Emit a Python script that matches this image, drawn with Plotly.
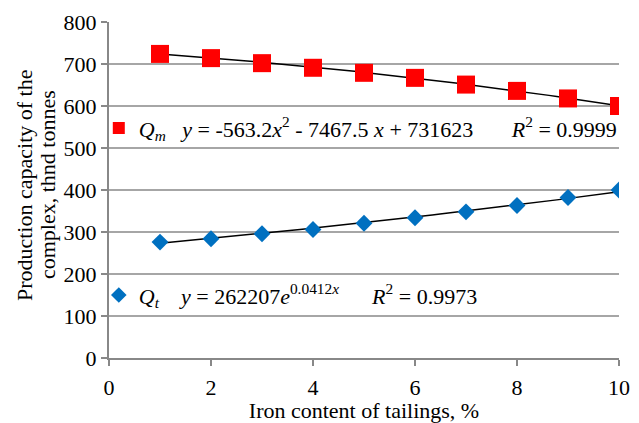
import numpy as np
import plotly.graph_objects as go

# Data (thousand tonnes) vs iron content of tailings (%)
iron = [1, 2, 3, 4, 5, 6, 7, 8, 9, 10]
q_m = [724, 714, 702, 691, 679, 667, 651, 636, 618, 600]
q_t = [276, 284, 296, 306, 321, 334, 348, 363, 382, 400]

# Trend equations given on the chart (tonnes)
qm_coef = [-563.2, -7467.5, 731623]
qt_a, qt_b = 262207, 0.0412

x_ticks = [0, 2, 4, 6, 8, 10]
y_ticks = [0, 100, 200, 300, 400, 500, 600, 700, 800]
y_title_lines = ["Production capacity of the", "complex, thnd tonnes"]

xf = np.linspace(min(iron), max(iron), 60)
qm_fit = np.polyval(qm_coef, xf) / 1000
qt_fit = qt_a * np.exp(qt_b * xf) / 1000

FONT = "Liberation Serif"
FS = 22
NB = "\u00a0"

fig = go.Figure()
fig.add_trace(go.Scatter(x=xf, y=qm_fit, mode="lines",
                         line=dict(color="black", width=1.5), showlegend=False))
fig.add_trace(go.Scatter(x=xf, y=qt_fit, mode="lines",
                         line=dict(color="black", width=1.5), showlegend=False))

qm_name = ("<i>Q</i><sub><i>m</i></sub>" + NB * 3 +
           "<i>y</i> = -563.2<i>x</i><sup>2</sup> - 7467.5 <i>x</i> + 731623" + NB * 7 +
           "<i>R</i><sup>2</sup> = 0.9999")
qt_name = ("<i>Q</i><sub><i>t</i></sub>" + NB * 4 +
           "<i>y</i> = 262207<i>e</i><sup>0.0412<i>x</i></sup>" + NB * 6 +
           "<i>R</i><sup>2</sup> = 0.9973")

fig.add_trace(go.Scatter(x=iron, y=q_m, mode="markers", name=qm_name,
                         marker=dict(symbol="square", size=18, color="#ff0000"),
                         legend="legend"))
fig.add_trace(go.Scatter(x=iron, y=q_t, mode="markers", name=qt_name,
                         marker=dict(symbol="diamond", size=13, color="#0070c0"),
                         legend="legend2"))

axis_common = dict(
    showline=True, linecolor="#888888", linewidth=2,
    ticks="outside", ticklen=6, tickcolor="#888888", tickwidth=1.5,
    tickfont=dict(family=FONT, size=FS, color="black"),
    zeroline=False, automargin=False,
)

fig.update_layout(
    width=639, height=423,
    margin=dict(l=109, r=19.5, t=21.7, b=64.7),
    paper_bgcolor="white", plot_bgcolor="white",
    font=dict(family=FONT, size=FS, color="black"),
    xaxis=dict(range=[0, 10], tickvals=x_ticks, showgrid=False,
               ticklabelstandoff=3,
               title=dict(text="Iron content of tailings, %",
                          font=dict(family=FONT, size=FS), standoff=2),
               **axis_common),
    yaxis=dict(range=[0, 800], tickvals=y_ticks, showgrid=True,
               gridcolor="#a6a6a6", gridwidth=1.5,
               **axis_common),
    legend=dict(x=-0.02, y=0.684, xanchor="left", yanchor="middle",
                bgcolor="rgba(0,0,0,0)", font=dict(family=FONT, size=FS),
                itemsizing="constant"),
    legend2=dict(x=-0.02, y=0.187, xanchor="left", yanchor="middle",
                 bgcolor="rgba(0,0,0,0)", font=dict(family=FONT, size=FS),
                 itemsizing="constant"),
)

# Two-line rotated y-axis title
for txt, xp in zip(y_title_lines, [-0.1645, -0.1195]):
    fig.add_annotation(text=txt, xref="paper", yref="paper", x=xp, y=0.515,
                       xanchor="center", yanchor="middle", textangle=-90,
                       showarrow=False, font=dict(family=FONT, size=FS, color="black"))

fig.write_html("out.html")
